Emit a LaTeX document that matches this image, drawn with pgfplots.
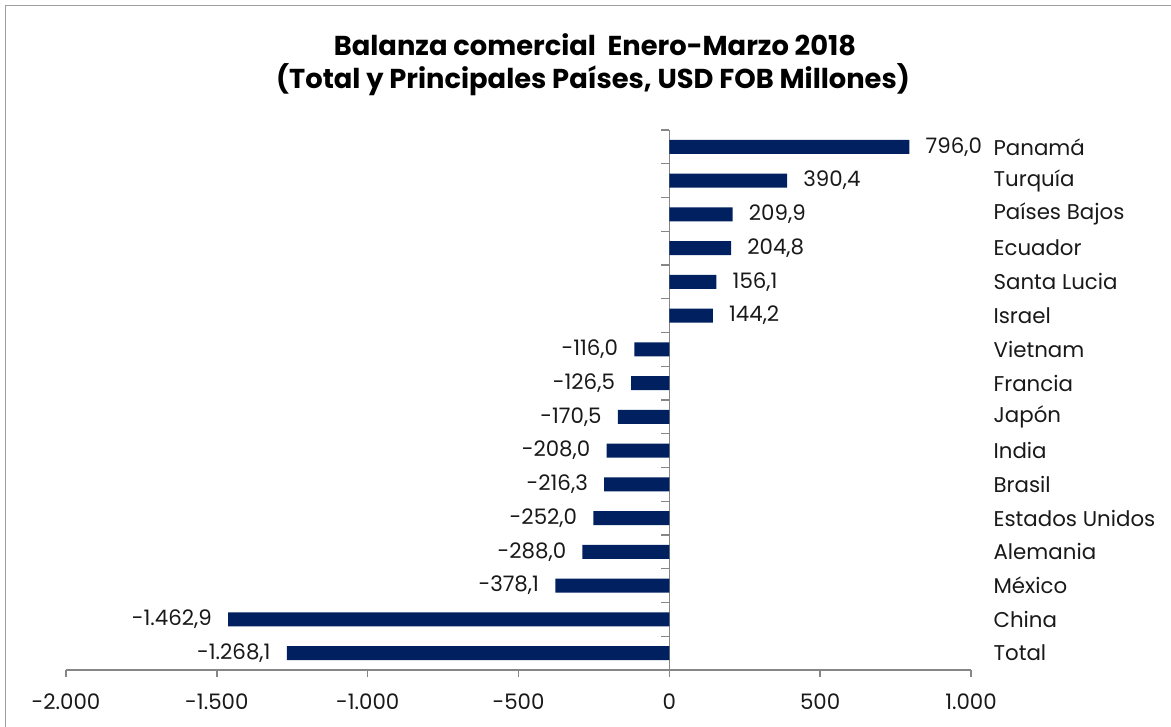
\documentclass[border=0pt]{standalone}
\usepackage{pgfplots}
\pgfplotsset{compat=1.18}
\usepackage{fontspec}
\setmainfont{Poppins}
\definecolor{barblue}{RGB}{0,32,96}
\definecolor{axgray}{RGB}{134,134,134}
\begin{document}
\begin{tikzpicture}[x=0.75pt,y=0.75pt]
\useasboundingbox (0,0) rectangle (1171,727);
\draw[axgray!80, line width=1.2pt] (5.5,0) -- (5.5,721.5) -- (1171,721.5);
\node[font=\fontsize{20.5}{24}\selectfont\bfseries] at (595,682) {Balanza comercial\ \ Enero-Marzo 2018};
\node[font=\fontsize{20.5}{24}\selectfont\bfseries] at (593,647) {(Total y Principales Países, USD FOB Millones)};
\begin{axis}[
  at={(49.5pt,42.75pt)}, anchor=south west,
  width=678.75pt, height=405pt, scale only axis,
  xbar, bar width=10.5pt,
  xmin=-2000, xmax=1000, ymin=-0.5, ymax=15.5,
  axis x line*=bottom, axis y line*=right,
  y axis line style={draw=none},
  x axis line style={axgray, line width=1.1pt, -},
  xtick={-2000,-1500,...,1000},
  tick align=outside, major tick length=5.25pt,
  xtick style={axgray, line width=1.1pt},
  ytick={0,...,15},
  yticklabels={Total,China,México,Alemania,Estados Unidos,Brasil,India,Japón,Francia,Vietnam,Israel,Santa Lucia,Ecuador,Países Bajos,Turquía,Panamá},
  ytick style={draw=none},
  yticklabel style={anchor=west, inner sep=0pt, xshift=11.5pt, font=\fontsize{16}{19}\selectfont, text=black!90},
  xticklabel style={font=\fontsize{16}{19}\selectfont, text=black!90, yshift=-9pt},
  clip=false,
  /pgf/number format/1000 sep={.},
  /pgf/number format/use comma,
  /pgf/number format/assume math mode=true,
  nodes near coords={\pgfmathprintnumber[fixed,fixed zerofill,precision=1,use comma,1000 sep={.},assume math mode=true]{\pgfplotspointmeta}},
  every node near coord/.append style={font=\fontsize{16}{19}\selectfont, text=black!90, inner sep=0pt},
]
\draw[axgray, line width=1.1pt] (axis cs:0,-0.5) -- (axis cs:0,15.5);
\pgfplotsinvokeforeach{-0.5,0.5,...,15.5}{\draw[axgray, line width=1.1pt] (axis cs:0,#1) -- ([xshift=-6pt]axis cs:0,#1);}
\addplot[fill=barblue, draw=none, bar shift=0pt,
  every node near coord/.append style={anchor=east, xshift=-12pt}] coordinates {
  (-1268.1,0) (-1462.9,1) (-378.1,2) (-288.0,3) (-252.0,4) (-216.3,5)
  (-208.0,6) (-170.5,7) (-126.5,8) (-116.0,9)
};
\addplot[fill=barblue, draw=none, bar shift=0pt,
  every node near coord/.append style={anchor=west, xshift=12pt}] coordinates {
  (144.2,10) (156.1,11) (204.8,12) (209.9,13) (390.4,14) (796.0,15)
};
\end{axis}
\end{tikzpicture}
\end{document}
